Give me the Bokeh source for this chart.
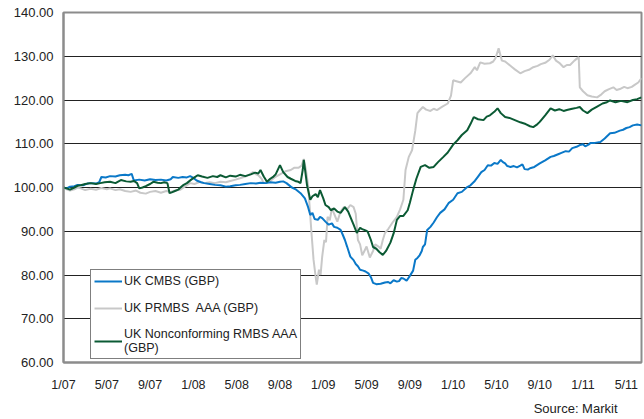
from bokeh.plotting import figure
from bokeh.models import (FixedTicker, Legend, LegendItem, Title, Range1d,
                          PrintfTickFormatter)
from bokeh.embed import file_html
from bokeh.resources import INLINE

# ---- data (x = months since Jan 2007) ----
tick_months = [0, 4, 8, 12, 16, 20, 24, 28, 32, 36, 40, 44, 48, 52]
tick_labels = ["1/07", "5/07", "9/07", "1/08", "5/08", "9/08", "1/09",
               "5/09", "9/09", "1/10", "5/10", "9/10", "1/11", "5/11"]
y_ticks = [60, 70, 80, 90, 100, 110, 120, 130, 140]

cmbs_m = [0.0, 0.3, 0.6, 1.0, 1.3, 1.8, 2.2, 2.6, 3.0, 3.3, 3.5, 3.9, 4.3, 4.8,
          5.2, 5.7, 6.0, 6.3, 6.5, 7.0, 7.5, 8.0, 8.5, 9.0, 9.5, 9.9, 10.1,
          10.6, 11.0, 11.4, 11.7, 12.0, 12.3, 12.7, 13.0, 13.5, 14.0, 14.5,
          15.0, 15.4, 15.9, 16.3, 16.8, 17.3, 17.8, 18.2, 18.7, 19.1, 19.6,
          20.0, 20.3, 20.6, 20.8, 21.1, 21.5, 21.9, 22.3, 22.6, 22.8, 23.0,
          23.2, 23.5, 23.7, 23.9, 24.2, 24.5, 24.8, 25.0, 25.3, 25.6, 25.8,
          26.0, 26.2, 26.5, 26.8, 27.0, 27.2, 27.4, 27.7, 27.9, 28.2, 28.4,
          28.6, 28.9, 29.3, 29.7, 30.0, 30.2, 30.5, 30.8, 31.0, 31.2, 31.4,
          31.7, 32.0, 32.3, 32.5, 32.7, 32.9, 33.1, 33.2, 33.4, 33.6, 33.9,
          34.2, 34.5, 34.8, 35.2, 35.6, 36.0, 36.4, 36.8, 37.3, 37.6, 38.0,
          38.3, 38.6, 38.9, 39.2, 39.5, 39.8, 40.1, 40.4, 40.6, 40.8, 41.0,
          41.3, 41.6, 41.9, 42.2, 42.4, 42.6, 42.9, 43.1, 43.5, 44.0, 44.5,
          45.0, 45.3, 45.7, 46.0, 46.4, 46.7, 47.0, 47.4, 47.7, 48.0, 48.2,
          48.5, 48.7, 49.1, 49.6, 50.0, 50.5, 50.9, 51.4, 51.7, 52.0, 52.3,
          52.6, 53.0, 53.4]
cmbs_v = [100.0, 99.8, 100.2, 100.3, 100.6, 100.5, 100.9, 101.0, 100.9, 101.2,
          102.4, 102.3, 102.6, 102.5, 102.8, 102.9, 102.8, 103.1, 101.6, 101.8,
          101.6, 101.9, 101.7, 101.8, 101.6, 101.9, 102.4, 102.2, 102.4, 102.3,
          102.6, 102.2, 101.6, 101.2, 101.0, 100.8, 100.6, 100.5, 100.2, 100.3,
          100.5, 100.6, 100.8, 101.0, 100.9, 101.1, 101.0, 101.2, 101.1, 101.3,
          101.4, 101.0, 100.6, 100.0, 99.5, 98.7, 97.5, 95.5, 93.7, 94.2, 92.8,
          92.6, 93.3, 93.0, 92.2, 91.5, 91.8, 91.0, 90.8, 90.3, 89.2, 88.0,
          86.5, 84.2, 83.4, 82.5, 82.0, 81.2, 81.0, 80.8, 80.3, 79.5, 78.2,
          77.9, 78.0, 78.3, 78.4, 78.1, 78.8, 78.5, 78.6, 79.3, 79.2, 78.7,
          79.8, 81.0, 83.5, 83.9, 84.5, 85.5, 86.4, 87.0, 90.3, 91.0, 92.0,
          93.2, 94.2, 95.0, 96.5, 97.2, 98.7, 99.0, 100.1, 100.5, 101.5, 102.5,
          103.5, 104.0, 105.1, 105.0, 105.6, 105.4, 106.3, 105.8, 105.5, 104.9,
          104.7, 104.9, 104.6, 105.0, 105.3, 104.2, 104.1, 104.4, 104.7, 105.5,
          106.2, 107.0, 107.2, 107.6, 107.9, 108.3, 108.2, 109.0, 109.3, 109.7,
          109.9, 109.4, 109.8, 110.2, 110.2, 110.4, 111.2, 112.4, 112.5, 113.0,
          113.2, 113.6, 113.8, 114.2, 114.4, 114.2]

prmbs_m = [0.0, 0.3, 0.6, 1.0, 1.3, 1.6, 2.0, 2.5, 3.0, 3.5, 4.0, 4.3, 4.8, 5.2,
           5.7, 6.2, 6.7, 7.1, 7.6, 8.0, 8.5, 9.0, 9.5, 9.9, 10.3, 10.8, 11.2,
           11.7, 12.1, 12.6, 13.0, 13.5, 14.0, 14.5, 15.0, 15.4, 15.9, 16.3,
           16.8, 17.2, 17.5, 17.8, 18.0, 18.3, 18.5, 18.8, 19.1, 19.5, 20.0,
           20.5, 21.0, 21.3, 21.7, 22.0, 22.2, 22.4, 22.6, 22.7, 22.9, 23.1,
           23.3, 23.4, 23.6, 23.75, 23.9, 24.1, 24.25, 24.4, 24.6, 24.8, 25.0,
           25.3, 25.6, 25.9, 26.2, 26.5, 26.8, 27.0, 27.2, 27.4, 27.6, 27.8,
           28.0, 28.3, 28.6, 28.8, 29.1, 29.3, 29.5, 29.7, 30.0, 30.4, 30.8,
           31.1, 31.4, 31.6, 31.9, 32.2, 32.5, 32.7, 32.9, 33.2, 33.5, 33.9,
           34.2, 34.5, 35.0, 35.5, 35.8, 36.0, 36.3, 36.7, 37.1, 37.6, 38.0,
           38.2, 38.5, 38.9, 39.4, 39.7, 39.9, 40.2, 40.5, 40.8, 41.0, 41.4,
           41.7, 42.2, 42.6, 43.0, 43.4, 43.8, 44.1, 44.5, 44.9, 45.2, 45.5,
           45.8, 46.2, 46.5, 46.8, 47.2, 47.6, 47.7, 48.0, 48.4, 48.8, 49.3,
           49.7, 50.0, 50.4, 50.8, 51.1, 51.4, 51.8, 52.1, 52.5, 52.8, 53.1,
           53.4]
prmbs_v = [100.0, 99.6, 99.3, 99.6, 100.0, 99.8, 99.4, 99.7, 99.5, 99.9, 99.6,
           99.8, 99.4, 99.6, 99.2, 99.0, 99.3, 98.8, 98.6, 99.0, 99.2, 98.8,
           99.2, 99.0, 99.3, 99.5, 100.2, 101.0, 100.8, 101.3, 101.0, 101.2,
           101.0, 101.3, 101.2, 101.5, 101.8, 102.1, 102.5, 103.0, 103.5, 103.0,
           102.8, 102.0, 101.0, 101.3, 101.5, 102.3, 103.0, 103.7, 104.0, 104.5,
           104.5, 105.0, 106.5, 104.0, 100.5, 97.0, 90.0, 83.5, 79.5, 77.8,
           81.2, 80.0, 84.2, 88.0, 87.5, 93.3, 92.5, 95.3, 94.0, 92.2, 94.5,
           95.5, 95.0, 96.0, 95.5, 94.0, 88.0, 87.0, 84.5, 85.5, 86.5, 84.0,
           85.5, 87.0, 86.5, 86.0, 88.0, 89.6, 90.5, 92.0, 93.3, 95.0, 97.2,
           104.0, 107.0, 108.5, 113.0, 117.0, 117.6, 118.4, 117.8, 117.5, 118.0,
           117.7, 118.5, 119.2, 121.0, 124.5, 124.3, 124.0, 125.0, 126.1, 127.5,
           126.8, 128.6, 128.3, 128.4, 128.8, 129.5, 131.8, 129.0, 128.8, 128.4,
           127.6, 127.0, 126.1, 126.6, 126.9, 127.5, 127.8, 128.2, 128.5, 129.2,
           130.2, 129.0, 128.5, 127.5, 128.0, 128.0, 129.0, 129.8, 122.9, 122.0,
           121.1, 120.8, 120.6, 121.3, 122.0, 122.5, 122.9, 122.3, 122.5, 123.0,
           122.7, 123.0, 123.5, 124.0, 125.0]

ncrmbs_m = [0.0, 0.3, 0.6, 1.0, 1.3, 1.6, 2.0, 2.5, 3.0, 3.4, 3.8, 4.3, 4.8,
            5.3, 5.8, 6.2, 6.5, 6.8, 7.0, 7.3, 7.6, 8.0, 8.3, 8.7, 9.0, 9.3,
            9.6, 9.8, 10.0, 10.3, 10.6, 10.8, 11.1, 11.4, 11.8, 12.1, 12.4,
            12.8, 13.3, 13.8, 14.2, 14.5, 15.0, 15.4, 15.9, 16.3, 16.8, 17.3,
            17.7, 18.0, 18.2, 18.5, 18.8, 19.1, 19.4, 19.6, 20.0, 20.3, 20.7,
            21.0, 21.4, 21.7, 21.9, 22.1, 22.2, 22.4, 22.5, 22.8, 23.0, 23.3,
            23.5, 23.7, 24.0, 24.2, 24.5, 24.7, 25.0, 25.3, 25.6, 26.0, 26.3,
            26.5, 26.8, 27.1, 27.4, 27.6, 27.9, 28.1, 28.4, 28.6, 28.9, 29.2,
            29.5, 29.8, 30.2, 30.5, 30.8, 31.1, 31.4, 31.8, 32.0, 32.3, 32.6,
            33.0, 33.4, 33.8, 34.2, 34.6, 35.1, 35.5, 36.0, 36.4, 36.8, 37.3,
            37.6, 37.9, 38.3, 38.8, 39.1, 39.4, 39.8, 40.1, 40.4, 40.8, 41.2,
            41.7, 42.2, 42.7, 43.1, 43.4, 43.7, 44.0, 44.5, 45.0, 45.4, 45.8,
            46.2, 46.5, 47.0, 47.4, 47.7, 48.0, 48.4, 48.8, 49.3, 49.8, 50.2,
            50.5, 51.0, 51.5, 52.1, 52.6, 53.0, 53.4]
ncrmbs_v = [100.0, 99.8, 99.5, 100.0, 100.4, 100.5, 100.8, 101.0, 100.8, 101.0,
            101.2, 101.3, 101.0, 101.7, 101.4, 101.3, 101.5, 101.0, 99.8, 100.0,
            100.3, 100.8, 101.3, 101.1, 101.0, 101.2, 101.0, 98.7, 98.9, 99.2,
            99.5, 100.0, 100.6, 101.0, 101.8, 102.3, 102.8, 102.5, 102.2, 102.6,
            102.4, 102.8, 102.3, 102.7, 102.5, 102.9, 102.6, 103.0, 103.4, 103.2,
            104.0, 102.5, 101.3, 102.0, 102.5, 103.0, 105.1, 103.5, 102.4, 102.0,
            101.5, 101.3, 101.0, 104.0, 106.3, 102.5, 100.5, 97.2, 98.0, 98.5,
            97.8, 99.4, 97.5, 96.0, 95.5, 94.8, 95.2, 94.5, 94.2, 95.5, 94.5,
            93.3, 91.5, 89.6, 90.8, 90.5, 90.2, 89.9, 88.0, 86.4, 86.0, 85.2,
            84.6, 85.5, 87.4, 89.5, 92.6, 93.5, 93.5, 94.8, 96.5, 99.4, 102.0,
            104.7, 105.1, 104.5, 104.7, 105.8, 107.0, 108.0, 109.8, 110.8, 112.0,
            113.1, 114.5, 116.1, 115.6, 115.4, 116.2, 116.5, 117.3, 118.1, 117.0,
            116.1, 115.9, 115.4, 114.9, 114.5, 114.0, 113.8, 114.3, 115.0, 116.5,
            118.1, 117.6, 117.9, 117.5, 117.7, 118.0, 118.2, 118.4, 117.6, 117.0,
            117.8, 118.5, 119.2, 119.5, 119.9, 119.5, 119.8, 119.5, 120.0, 120.2,
            120.6]

series_names = ["UK CMBS (GBP)", "UK PRMBS  AAA (GBP)",
                "UK Nonconforming RMBS AAA\n(GBP)"]
series_colors = ["#0a78c8", "#c8c8c8", "#0b5a34"]

FONT = "Liberation Sans"

p = figure(width=644, height=419, output_backend="svg", toolbar_location=None,
           x_range=Range1d(0, 53.4), y_range=Range1d(60, 140),
           min_border_left=63, min_border_right=3, min_border_top=12,
           min_border_bottom=56)
p.background_fill_color = "white"
p.border_fill_color = "white"
p.outline_line_color = "#8c8c8c"
p.outline_line_width = 2

r_gray = p.line(prmbs_m, prmbs_v, color=series_colors[1], line_width=2)
r_blue = p.line(cmbs_m, cmbs_v, color=series_colors[0], line_width=2)
r_green = p.line(ncrmbs_m, ncrmbs_v, color=series_colors[2], line_width=2)

# axes
for ax in (p.xaxis[0], p.yaxis[0]):
    ax.axis_line_color = "#8c8c8c"
    ax.axis_line_width = 2
    ax.major_tick_line_color = None
    ax.minor_tick_line_color = None
    ax.major_tick_out = 0
    ax.major_tick_in = 0
    ax.minor_tick_out = 0
    ax.major_label_text_font = FONT
    ax.major_label_text_color = "#222222"

p.xaxis.ticker = FixedTicker(ticks=tick_months)
p.xaxis.major_label_overrides = {m: l for m, l in zip(tick_months, tick_labels)}
p.xaxis.major_label_text_font_size = "12.5px"
p.xaxis.major_label_standoff = 15

p.yaxis.ticker = FixedTicker(ticks=y_ticks)
p.yaxis.formatter = PrintfTickFormatter(format="%.2f")
p.yaxis.major_label_text_font_size = "13px"
p.yaxis.major_label_standoff = 10

p.xgrid.visible = False
p.ygrid.grid_line_color = "#222222"
p.ygrid.grid_line_width = 1

legend = Legend(items=[
    LegendItem(label=series_names[0], renderers=[r_blue]),
    LegendItem(label=series_names[1], renderers=[r_gray]),
    LegendItem(label=series_names[2], renderers=[r_green]),
], location=(27, 3))
legend.border_line_color = "black"
legend.border_line_width = 1
legend.background_fill_color = "white"
legend.background_fill_alpha = 1
legend.label_text_font = FONT
legend.label_text_font_size = "12.5px"
legend.label_text_line_height = 1.1
legend.label_text_color = "#222222"
legend.glyph_width = 28
legend.glyph_height = 16
legend.label_height = 16
legend.label_standoff = 2
legend.spacing = 11
legend.padding = 3
legend.margin = 0
p.add_layout(legend, "center")

src = Title(text="Source: Markit", align="right", text_font=FONT,
            text_font_size="13px", text_font_style="normal",
            text_color="#222222", standoff=8, offset=24)
p.add_layout(src, "below")

open("out.html", "w").write(file_html(p, INLINE))
